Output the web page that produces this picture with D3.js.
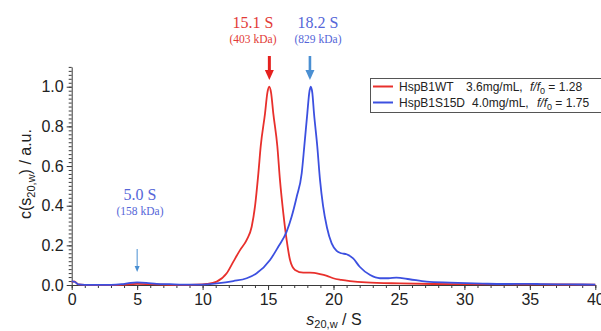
<!DOCTYPE html>
<html>
<head>
<meta charset="utf-8">
<script src="https://cdn.jsdelivr.net/npm/d3@7"></script>
<style>
  html, body { margin: 0; padding: 0; background: #fff; overflow: hidden; }
  svg { display: block; }
</style>
</head>
<body>
<svg id="chart" width="601" height="331"></svg>
<script>
// ---- data ----
const wtS = [0, 0.2, 0.5, 1, 2, 3, 4, 5, 6, 7, 8, 9, 10, 10.3, 11.08, 11.84, 12.35, 12.86, 13.37, 13.75, 14.0, 14.26, 14.44, 14.77, 14.95, 15.09, 15.23, 15.4, 15.71, 15.91, 16.17, 16.42, 16.68, 17.06, 17.69, 18.2, 18.97, 19.5, 19.98, 20.6, 21.26, 22.5, 25.1, 27.6, 30, 35, 40];
const wtC = [0.015, 0.018, 0.003, 0.001, 0.0, 0.0, 0.002, 0.006, 0.004, 0.002, 0.001, 0.001, 0.003, 0.005, 0.017, 0.059, 0.118, 0.176, 0.227, 0.294, 0.395, 0.563, 0.70, 0.866, 0.97, 1.0, 0.97, 0.866, 0.70, 0.53, 0.36, 0.227, 0.126, 0.076, 0.062, 0.062, 0.055, 0.046, 0.034, 0.026, 0.02, 0.013, 0.008, 0.005, 0.004, 0.003, 0.002];

const s15dS = [0, 0.25, 0.5, 1, 2, 3, 3.8, 4.5, 5.0, 5.7, 6.5, 7.5, 8.5, 9.5, 10.3, 11.08, 12.35, 13.37, 14.13, 15.15, 15.78, 16.42, 16.8, 17.19, 17.57, 17.77, 18.0, 18.15, 18.26, 18.38, 18.51, 18.76, 18.97, 19.2, 19.5, 19.86, 20.24, 20.6, 21.0, 21.5, 22.0, 22.8, 23.55, 24.2, 24.8, 25.8, 27.1, 28.9, 31.4, 33, 35, 36, 38, 40];
const s15dC = [0.018, 0.015, 0.003, 0.001, 0.001, 0.001, 0.004, 0.011, 0.013, 0.011, 0.006, 0.004, 0.002, 0.002, 0.003, 0.008, 0.02, 0.034, 0.059, 0.126, 0.193, 0.269, 0.344, 0.445, 0.563, 0.70, 0.866, 0.97, 1.0, 0.97, 0.866, 0.70, 0.53, 0.40, 0.29, 0.21, 0.172, 0.16, 0.155, 0.134, 0.092, 0.05, 0.034, 0.034, 0.037, 0.029, 0.017, 0.012, 0.007, 0.005, 0.006, 0.004, 0.003, 0.002];

const seriesNames = ["HspB1WT", "HspB1S15D"];
const seriesConc = ["3.6mg/mL,", "4.0mg/mL,"];
const seriesFf0 = ["1.28", "1.75"];

const xTicks = [0, 5, 10, 15, 20, 25, 30, 35, 40];
const yTicks = [0.0, 0.2, 0.4, 0.6, 0.8, 1.0];

const peakS = [15.1, 18.2, 5.0];
const peakLabels = ["15.1 S", "18.2 S", "5.0 S"];
const peakMass = ["(403 kDa)", "(829 kDa)", "(158 kDa)"];

// ---- layout ----
const RED = "#e8302c", BLUE = "#3c50e0";
const RED_TXT = "#e23a36", BLUE_TXT = "#5566d8", ARROW_BLUE = "#4a8fd2";
const svg = d3.select("#chart");
const x = d3.scaleLinear().domain([0, 40]).range([71.7, 595.3]);
const y = d3.scaleLinear().domain([0, 1.1]).range([285, 66.9]);
const AX = "#3a3a3a";

// minor ticks
svg.append("g").attr("transform", "translate(0,285)")
  .call(d3.axisBottom(x).tickValues(d3.range(0, 41, 1)).tickSize(3).tickFormat(""))
  .call(g => g.select(".domain").remove())
  .call(g => g.selectAll("line").attr("stroke", AX));
svg.append("g").attr("transform", "translate(71.7,0)")
  .call(d3.axisLeft(y).tickValues(d3.range(0, 111, 2).map(v => v / 100)).tickSize(3).tickFormat(""))
  .call(g => g.select(".domain").remove())
  .call(g => g.selectAll("line").attr("stroke", AX));

// major axes
const xAxis = svg.append("g").attr("transform", "translate(0,285)")
  .call(d3.axisBottom(x).tickValues(xTicks).tickSize(5).tickSizeOuter(0).tickFormat(d3.format("d")).tickPadding(4));
const yAxis = svg.append("g").attr("transform", "translate(71.7,0)")
  .call(d3.axisLeft(y).tickValues(yTicks).tickSize(5).tickSizeOuter(0).tickFormat(d3.format(".1f")).tickPadding(3));
[xAxis, yAxis].forEach(g => {
  g.select(".domain").attr("stroke", AX).attr("stroke-width", 1);
  g.selectAll("line").attr("stroke", AX);
  g.selectAll("text").attr("fill", "#222").style("font-family", "'Liberation Sans', Arial, sans-serif").style("font-size", "16px");
});

// curves
const line = d3.line().x(d => x(d[0])).y(d => y(d[1])).curve(d3.curveMonotoneX);
const wt = wtS.map((s, i) => [s, wtC[i]]);
const s15 = s15dS.map((s, i) => [s, s15dC[i]]);
svg.append("path").attr("d", line(wt)).attr("fill", "none").attr("stroke", RED).attr("stroke-width", 1.8);
svg.append("path").attr("d", line(s15)).attr("fill", "none").attr("stroke", BLUE).attr("stroke-width", 1.8);

// axis titles
const SANS = "'Liberation Sans', Arial, sans-serif";
const yl = svg.append("text")
  .attr("transform", "translate(31,174) rotate(-90)")
  .attr("text-anchor", "middle")
  .style("font-family", SANS).style("font-size", "16px").attr("fill", "#222");
yl.append("tspan").text("c(s");
yl.append("tspan").attr("dy", 4).style("font-size", "11px").text("20,w");
yl.append("tspan").attr("dy", -4).text(") / a.u.");

const xl = svg.append("text")
  .attr("x", 334).attr("y", 325).attr("text-anchor", "middle")
  .style("font-family", SANS).style("font-size", "16px").attr("fill", "#222");
xl.append("tspan").style("font-style", "italic").text("s");
xl.append("tspan").attr("dy", 3).style("font-size", "11px").text("20,w");
xl.append("tspan").attr("dy", -3).text(" / S");

// peak annotations
const SERIF = "'Liberation Serif', 'Times New Roman', serif";
const annTextX = [253, 318, 140];
const annTextY = [28, 28, 200];
const annColors = [RED_TXT, BLUE_TXT, BLUE_TXT];
peakLabels.forEach((lab, i) => {
  svg.append("text").attr("x", annTextX[i]).attr("y", annTextY[i]).attr("text-anchor", "middle")
    .style("font-family", SERIF).style("font-size", "16px").attr("fill", annColors[i]).text(lab);
  svg.append("text").attr("x", annTextX[i]).attr("y", annTextY[i] + 15).attr("text-anchor", "middle")
    .style("font-family", SERIF).style("font-size", "11.5px").attr("fill", annColors[i]).text(peakMass[i]);
});

// arrows
function arrow(xp, y0, y1, color, w, hw, hl) {
  svg.append("line").attr("x1", xp).attr("x2", xp).attr("y1", y0).attr("y2", y1 - hl + 1)
    .attr("stroke", color).attr("stroke-width", w);
  svg.append("path").attr("d", `M${xp - hw},${y1 - hl} L${xp + hw},${y1 - hl} L${xp},${y1} Z`).attr("fill", color);
}
arrow(x(peakS[0]), 56, 80, "#e5201e", 3, 4.5, 10);
arrow(x(peakS[1]), 56, 80, ARROW_BLUE, 2.6, 4.5, 10);
arrow(x(peakS[2]), 249, 272, ARROW_BLUE, 1, 2.5, 6);

// legend
const lg = svg.append("g");
lg.append("rect").attr("x", 370.5).attr("y", 78.5).attr("width", 260).attr("height", 34)
  .attr("fill", "#fff").attr("stroke", "#555").attr("stroke-width", 1);
const legColors = [RED, BLUE];
const rowY = [91, 107];
const concX = [466, 472];
const ffX = [530, 537];
seriesNames.forEach((nm, i) => {
  lg.append("line").attr("x1", 373).attr("x2", 393).attr("y1", rowY[i] - 4.5).attr("y2", rowY[i] - 4.5)
    .attr("stroke", legColors[i]).attr("stroke-width", 2);
  const t = lg.append("g").style("font-family", SANS).style("font-size", "12px").attr("fill", "#222");
  t.append("text").attr("x", 399).attr("y", rowY[i]).text(nm);
  t.append("text").attr("x", concX[i]).attr("y", rowY[i]).text(seriesConc[i]);
  const ff = t.append("text").attr("x", ffX[i]).attr("y", rowY[i]);
  ff.append("tspan").style("font-style", "italic").text("f/f");
  ff.append("tspan").attr("dy", 3).style("font-size", "9px").text("0");
  ff.append("tspan").attr("dy", -3).text(" = " + seriesFf0[i]);
});
</script>
</body>
</html>
